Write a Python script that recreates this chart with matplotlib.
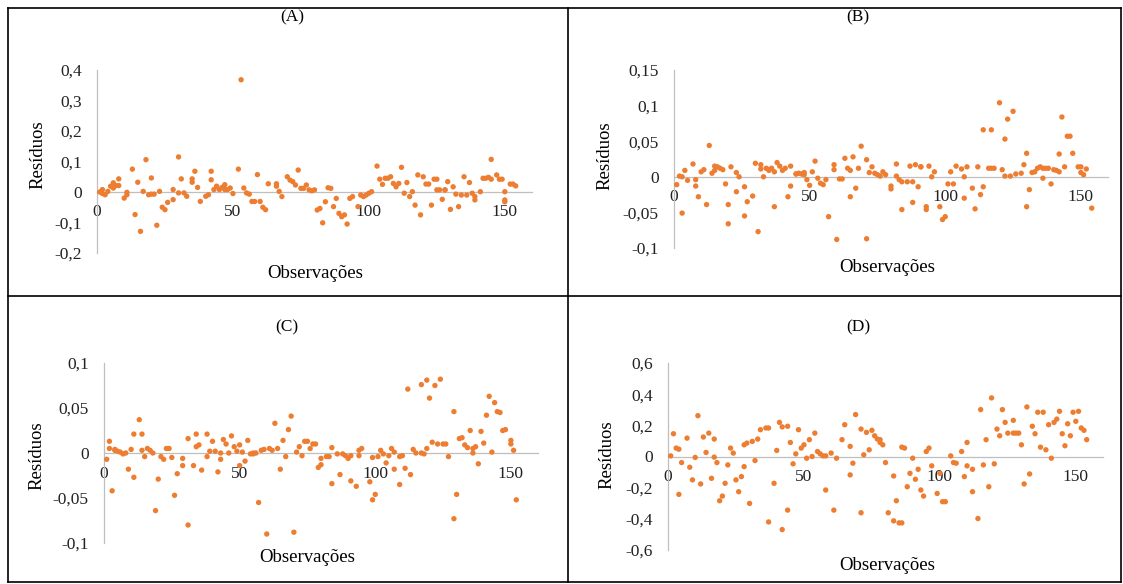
import numpy as np
import matplotlib
matplotlib.use('Agg')
import matplotlib.pyplot as plt
from matplotlib.lines import Line2D

plt.rcParams['font.family'] = ['Liberation Serif', 'DejaVu Serif']

# --- residuos (observacao, residuo) ---

obs_a = [1, 2, 2, 3, 4, 5, 6, 6, 7, 8, 8, 10, 11, 11, 13, 14, 15, 16, 17, 18,
         19, 20, 20, 21, 22, 23, 24, 25, 26, 28, 28, 30, 30, 31, 32, 33, 35, 35, 36, 37,
         38, 40, 41, 42, 42, 43, 44, 45, 46, 47, 47, 48, 49, 50, 52, 53, 54, 55, 56, 57,
         58, 59, 60, 61, 62, 63, 66, 66, 67, 68, 70, 71, 72, 73, 74, 75, 76, 77, 78, 79,
         80, 81, 82, 83, 84, 85, 86, 87, 88, 89, 90, 91, 92, 93, 94, 96, 97, 98, 99, 100,
         101, 103, 104, 105, 106, 107, 108, 109, 110, 111, 112, 113, 114, 115, 116, 117, 118, 119, 120, 121,
         122, 123, 124, 125, 125, 126, 127, 128, 128, 129, 130, 131, 132, 133, 134, 135, 136, 137, 138, 139,
         139, 141, 142, 143, 144, 145, 145, 147, 148, 149, 150, 150, 150, 152, 153, 154]
res_a = [0.000, -0.005, 0.008, -0.009, 0.002, 0.019, 0.030, 0.013, 0.021, 0.043, 0.021, -0.020, -0.001, -0.009, 0.075, -0.074, 0.032, -0.129, 0.002, 0.106,
         -0.009, 0.046, -0.007, -0.007, -0.109, 0.002, -0.050, -0.058, -0.034, 0.008, -0.025, 0.115, -0.003, 0.043, -0.003, -0.014, 0.043, 0.032, 0.068, 0.015,
         -0.031, -0.014, -0.009, 0.040, 0.068, 0.008, 0.019, 0.008, 0.015, 0.008, 0.024, 0.008, 0.013, -0.005, 0.075, 0.368, 0.013, -0.003, -0.007, -0.031,
         -0.031, 0.057, -0.031, -0.050, -0.058, 0.027, 0.019, 0.027, 0.002, -0.015, 0.050, 0.039, 0.034, 0.023, 0.072, 0.012, 0.012, 0.023, 0.007, 0.004,
         0.007, -0.059, -0.054, -0.101, -0.032, 0.014, 0.012, -0.048, -0.021, -0.070, -0.081, -0.075, -0.105, -0.021, -0.015, -0.048, -0.010, -0.015, -0.010, -0.004,
         0.001, 0.085, 0.042, 0.025, 0.045, 0.045, 0.050, 0.028, 0.017, 0.028, 0.081, -0.004, 0.031, -0.015, 0.001, -0.043, 0.056, -0.075, 0.050, 0.026,
         0.026, -0.043, 0.042, 0.007, 0.042, 0.007, -0.024, 0.007, 0.007, 0.034, -0.057, 0.017, -0.007, -0.048, -0.010, 0.050, -0.010, 0.031, -0.004, -0.026,
         -0.015, 0.001, 0.045, 0.045, 0.048, 0.107, 0.042, 0.056, 0.042, 0.042, -0.026, -0.032, 0.001, 0.026, 0.026, 0.020]

obs_b = [1, 2, 3, 3, 4, 5, 7, 8, 8, 9, 10, 11, 12, 13, 14, 15, 15, 16, 17, 18,
         19, 20, 20, 21, 23, 23, 24, 26, 26, 27, 29, 30, 31, 32, 32, 33, 34, 35, 35, 36,
         37, 37, 38, 39, 40, 41, 42, 43, 43, 45, 45, 46, 47, 48, 48, 49, 50, 51, 52, 53,
         54, 55, 56, 57, 59, 59, 60, 61, 62, 63, 64, 65, 65, 66, 67, 68, 69, 71, 71, 72,
         73, 74, 75, 76, 77, 78, 80, 80, 82, 82, 83, 84, 84, 86, 87, 88, 88, 89, 90, 91,
         91, 93, 93, 94, 95, 96, 98, 99, 100, 101, 102, 103, 104, 106, 107, 107, 108, 110, 111, 112,
         113, 114, 114, 116, 117, 117, 118, 120, 121, 122, 122, 123, 124, 125, 126, 128, 129, 130, 130, 131,
         132, 133, 134, 135, 136, 136, 137, 138, 139, 140, 141, 142, 142, 143, 144, 145, 146, 147, 149, 150,
         150, 151, 152, 154]
res_b = [-0.011, 0.001, 0.000, -0.051, 0.009, -0.005, 0.018, -0.013, -0.004, -0.028, 0.007, 0.010, -0.039, 0.044, 0.005, 0.009, 0.015, 0.014, 0.012, 0.010,
         -0.010, -0.039, -0.066, 0.014, -0.021, 0.006, 0.000, -0.014, -0.055, -0.035, -0.027, 0.019, -0.077, 0.017, 0.011, 0.000, 0.012, 0.010, 0.009, 0.012,
         -0.042, 0.007, 0.020, 0.015, 0.009, 0.012, -0.028, 0.015, -0.013, 0.004, 0.004, 0.005, 0.004, 0.006, 0.003, -0.004, -0.012, 0.007, 0.022, -0.002,
         -0.009, -0.011, -0.004, -0.056, 0.017, 0.010, -0.088, -0.003, -0.003, 0.026, 0.012, 0.009, -0.028, 0.028, -0.016, 0.012, 0.043, -0.087, 0.024, 0.006,
         0.014, 0.005, 0.003, 0.001, 0.007, 0.003, -0.013, -0.017, 0.018, 0.001, -0.004, -0.007, -0.046, -0.007, 0.015, -0.036, -0.007, 0.017, -0.014, 0.014,
         0.014, -0.042, -0.046, 0.015, 0.000, 0.007, -0.042, -0.060, -0.056, -0.010, 0.007, -0.010, 0.015, 0.011, 0.000, -0.030, 0.014, -0.016, -0.045, 0.014,
         -0.025, 0.066, -0.014, 0.012, 0.066, 0.012, 0.012, 0.104, 0.010, 0.053, 0.001, 0.081, 0.001, 0.092, 0.004, 0.005, 0.017, -0.042, 0.033, -0.018,
         0.006, 0.007, 0.012, 0.014, 0.012, -0.002, 0.012, 0.012, -0.010, 0.010, 0.009, 0.007, 0.032, 0.084, 0.014, 0.057, 0.057, 0.033, 0.014, 0.014,
         0.006, 0.003, 0.011, -0.044]

obs_c = [1, 2, 2, 3, 4, 4, 5, 6, 7, 8, 9, 10, 11, 11, 13, 14, 14, 15, 16, 17,
         18, 19, 20, 21, 22, 23, 24, 25, 26, 27, 29, 29, 31, 31, 33, 34, 34, 35, 36, 38,
         38, 39, 40, 41, 42, 43, 43, 44, 45, 46, 47, 48, 49, 50, 50, 51, 52, 53, 54, 55,
         55, 56, 57, 58, 59, 60, 61, 62, 63, 64, 65, 66, 67, 68, 69, 70, 71, 72, 73, 74,
         75, 76, 77, 78, 79, 80, 80, 82, 83, 84, 84, 86, 87, 88, 89, 90, 91, 91, 93, 94,
         94, 95, 98, 99, 99, 100, 101, 102, 103, 104, 105, 106, 107, 107, 109, 109, 110, 111, 112, 113,
         114, 115, 117, 117, 118, 119, 119, 120, 121, 122, 123, 124, 125, 126, 127, 129, 129, 130, 131, 132,
         133, 134, 135, 136, 136, 137, 138, 139, 140, 141, 142, 143, 144, 145, 146, 147, 148, 150, 150, 151,
         152]
res_c = [-0.007, 0.013, 0.005, -0.042, 0.004, 0.003, 0.002, 0.001, -0.001, 0.000, -0.018, 0.004, 0.021, -0.027, 0.037, 0.003, 0.021, -0.004, 0.005, 0.003,
         0.000, -0.064, -0.029, -0.004, -0.007, 0.005, 0.005, -0.005, -0.047, -0.023, -0.006, -0.014, -0.080, 0.016, -0.014, 0.007, 0.021, 0.009, -0.019, 0.021,
         -0.004, 0.002, 0.013, 0.002, -0.021, -0.007, 0.000, 0.015, 0.010, 0.000, 0.019, 0.007, 0.002, 0.009, -0.014, 0.001, -0.009, 0.014, -0.001, -0.001,
         0.000, 0.000, -0.055, 0.003, 0.004, -0.090, 0.005, 0.003, 0.033, 0.005, -0.018, 0.014, -0.004, 0.026, 0.041, -0.088, 0.001, 0.007, -0.003, 0.013,
         0.013, 0.005, 0.010, 0.010, -0.016, -0.013, -0.006, -0.004, -0.004, -0.034, 0.006, -0.001, -0.024, -0.001, -0.003, -0.006, -0.003, -0.031, -0.037, -0.003,
         0.003, 0.005, -0.032, -0.005, -0.052, -0.046, -0.004, 0.003, -0.001, -0.011, -0.003, 0.005, -0.018, 0.001, -0.004, -0.035, -0.003, -0.017, 0.071, -0.024,
         0.004, 0.000, 0.076, 0.000, -0.001, 0.081, 0.005, 0.061, 0.012, 0.075, 0.010, 0.082, 0.010, 0.010, -0.004, -0.073, 0.046, -0.046, 0.016, 0.017,
         0.009, 0.006, 0.025, 0.005, 0.000, 0.007, -0.012, 0.024, 0.011, 0.042, 0.063, 0.001, 0.056, 0.046, 0.045, 0.025, 0.026, 0.014, 0.010, 0.003,
         -0.052]

obs_d = [1, 2, 3, 4, 4, 5, 7, 8, 9, 10, 11, 12, 13, 14, 15, 16, 17, 17, 18, 19,
         20, 21, 22, 23, 24, 25, 26, 27, 28, 28, 29, 30, 31, 32, 33, 34, 36, 37, 37, 39,
         40, 41, 42, 42, 44, 44, 45, 46, 47, 48, 49, 50, 51, 52, 53, 54, 55, 56, 57, 58,
         58, 60, 61, 62, 64, 65, 67, 67, 68, 69, 71, 71, 72, 73, 74, 75, 76, 77, 78, 78,
         79, 80, 81, 83, 83, 84, 85, 86, 86, 87, 88, 89, 90, 91, 92, 93, 94, 95, 96, 97,
         99, 100, 101, 102, 104, 105, 106, 108, 109, 110, 110, 112, 112, 114, 115, 116, 117, 118, 119, 120,
         121, 122, 123, 124, 125, 127, 127, 128, 129, 130, 131, 132, 133, 134, 135, 136, 137, 138, 139, 140,
         141, 142, 143, 144, 145, 146, 147, 148, 149, 150, 151, 152, 153, 154]
res_d = [0.004, 0.146, 0.054, -0.243, 0.047, -0.039, 0.118, -0.069, -0.150, -0.006, 0.262, -0.176, 0.125, 0.026, 0.150, -0.140, 0.112, -0.004, -0.039, -0.284,
         -0.254, -0.172, -0.054, 0.054, 0.022, -0.150, -0.226, -0.129, -0.065, 0.075, 0.086, -0.301, 0.097, -0.026, 0.112, 0.172, 0.183, 0.183, -0.420, -0.172,
         0.039, 0.219, -0.469, 0.190, 0.194, -0.344, 0.090, -0.047, 0.017, 0.172, 0.054, 0.075, -0.011, 0.108, 0.000, 0.150, 0.032, 0.017, 0.004, -0.215,
         0.004, 0.022, -0.344, -0.011, 0.108, 0.204, -0.118, 0.065, -0.043, 0.269, 0.176, -0.361, 0.011, 0.155, 0.043, 0.168, 0.133, 0.112, 0.090, 0.108,
         0.075, -0.039, -0.361, -0.125, -0.413, -0.284, -0.426, -0.426, 0.060, 0.054, -0.194, -0.108, -0.011, -0.146, -0.082, -0.215, -0.254, 0.032, 0.054, -0.060,
         -0.237, -0.108, -0.290, -0.290, 0.004, -0.039, -0.043, 0.032, -0.129, 0.090, -0.060, -0.226, -0.082, -0.398, 0.301, -0.054, 0.108, -0.194, 0.376, -0.047,
         0.176, 0.133, 0.301, 0.219, 0.150, 0.232, 0.150, 0.150, 0.150, 0.075, -0.176, 0.318, -0.112, 0.194, 0.146, 0.284, 0.060, 0.284, 0.043, 0.204,
         -0.011, 0.219, 0.240, 0.290, 0.146, 0.069, 0.210, 0.133, 0.284, 0.226, 0.290, 0.183, 0.168, 0.108]

xticks = [0, 50, 100, 150]
yticks_a = [-0.2, -0.1, 0, 0.1, 0.2, 0.3, 0.4]
yticks_b = [-0.1, -0.05, 0, 0.05, 0.1, 0.15]
yticks_c = [-0.1, -0.05, 0, 0.05, 0.1]
yticks_d = [-0.6, -0.4, -0.2, 0, 0.2, 0.4, 0.6]

W, H = 1123, 584
ORANGE = '#ED7D31'
GRAY = '#BFBFBF'


def fx(px):
    return px / W


def fy(py):
    return 1 - py / H


def virgula(v):
    # 0.05 -> 0,05
    return f"{round(v, 3):g}".replace('.', ',')


def add_panel(fig, box, obs, res, yticks, title, title_xy, xlabel_xy, ylabel_xy):
    left, right, top, bottom = box
    ax = fig.add_axes([fx(left), fy(bottom), (right - left) / W, (bottom - top) / H])

    ax.scatter(obs, res, s=15, color=ORANGE, edgecolors='none', zorder=3, clip_on=False)

    ax.set_xlim(0, 160)
    ax.set_ylim(yticks[0], yticks[-1])
    ax.set_xticks(xticks)
    ax.set_xticklabels([str(t) for t in xticks])
    ax.set_yticks(yticks)
    ax.set_yticklabels([virgula(t) for t in yticks])

    # eixo x cruzando em zero, estilo excel
    ax.spines['top'].set_visible(False)
    ax.spines['right'].set_visible(False)
    ax.spines['bottom'].set_position(('data', 0))
    for s in ('bottom', 'left'):
        ax.spines[s].set_color(GRAY)
        ax.spines[s].set_linewidth(0.9)

    ax.tick_params(axis='both', length=0, labelsize=12.5, colors='#222222')
    ax.tick_params(axis='x', pad=9)
    ax.tick_params(axis='y', pad=11)
    ax.patch.set_visible(False)

    fig.text(fx(title_xy[0]), fy(title_xy[1]), title, ha='center', va='center', fontsize=12.5)
    fig.text(fx(xlabel_xy[0]), fy(xlabel_xy[1]), 'Observações', ha='center', va='center', fontsize=13.5)
    fig.text(fx(ylabel_xy[0]), fy(ylabel_xy[1]), 'Resíduos', ha='center', va='center',
             rotation=90, fontsize=13.5)
    return ax


fig = plt.figure(figsize=(W / 100, H / 100), dpi=100)

add_panel(fig, (97, 532, 70, 253), obs_a, res_a, yticks_a, '(A)', (292, 17), (315, 273), (38, 155))
add_panel(fig, (674, 1108, 70, 248), obs_b, res_b, yticks_b, '(B)', (858, 17), (887, 267), (605, 156))
add_panel(fig, (104, 538, 363, 543), obs_c, res_c, yticks_c, '(C)', (287, 327), (307, 557), (37, 456))
add_panel(fig, (668, 1103, 363, 550), obs_d, res_d, yticks_d, '(D)', (858, 327), (887, 566), (607, 455))

# linhas da tabela em volta dos quatro graficos
lines = [
    ((8, 1121), (8, 8)), ((8, 1121), (582, 582)),
    ((8, 8), (8, 582)), ((1121, 1121), (8, 582)),
    ((568, 568), (8, 582)), ((8, 1121), (296, 296)),
]
for xs, ys in lines:
    fig.add_artist(Line2D([fx(x) for x in xs], [fy(y) for y in ys], color='black', linewidth=1.2))

fig.savefig('out.png', dpi=100)
